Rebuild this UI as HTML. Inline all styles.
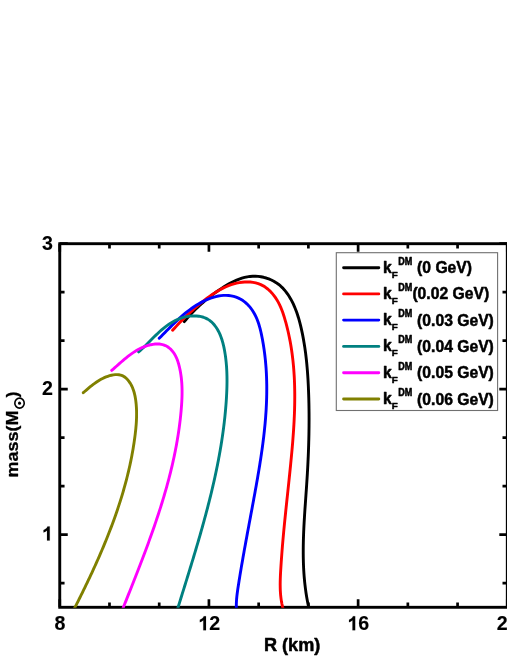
<!DOCTYPE html>
<html><head><meta charset="utf-8"><title>Mass-Radius</title>
<style>html,body{margin:0;padding:0;background:#fff}body{width:507px;height:656px;overflow:hidden;font-family:"Liberation Sans",sans-serif}</style></head>
<body>
<svg width="507" height="656" viewBox="0 0 507 656" style="display:block;will-change:transform">
<rect width="507" height="656" fill="#ffffff"/>
<defs><clipPath id="c"><rect x="59.75" y="243.70" width="447.55" height="364.00"/></clipPath></defs>
<path d="M59.75 607.30 V599.30 M59.75 243.70 V251.70 M109.48 607.30 V602.50 M109.48 243.70 V248.50 M159.21 607.30 V602.50 M159.21 243.70 V248.50 M208.93 607.30 V599.30 M208.93 243.70 V251.70 M258.66 607.30 V602.50 M258.66 243.70 V248.50 M308.39 607.30 V602.50 M308.39 243.70 V248.50 M358.12 607.30 V599.30 M358.12 243.70 V251.70 M407.84 607.30 V602.50 M407.84 243.70 V248.50 M457.57 607.30 V602.50 M457.57 243.70 V248.50 M507.30 607.30 V599.30 M507.30 243.70 V251.70 M59.75 243.70 H67.75 M507.30 243.70 H499.30 M59.75 292.18 H64.55 M507.30 292.18 H502.50 M59.75 340.66 H64.55 M507.30 340.66 H502.50 M59.75 389.14 H67.75 M507.30 389.14 H499.30 M59.75 437.62 H64.55 M507.30 437.62 H502.50 M59.75 486.10 H64.55 M507.30 486.10 H502.50 M59.75 534.58 H67.75 M507.30 534.58 H499.30 M59.75 583.06 H64.55 M507.30 583.06 H502.50" stroke="#000" stroke-width="2.70" fill="none"/>
<rect x="59.75" y="243.70" width="447.55" height="363.60" fill="none" stroke="#000" stroke-width="2.90"/>
<g clip-path="url(#c)" fill="none" stroke-width="2.9" stroke-linecap="round" stroke-linejoin="round">
<path d="M184.30 321.70 L186.10 319.52 L187.94 317.39 L189.80 315.30 L191.69 313.25 L193.60 311.25 L195.55 309.28 L197.53 307.35 L199.55 305.46 L201.59 303.61 L203.67 301.79 L205.78 300.00 L207.93 298.25 L210.11 296.53 L212.33 294.84 L214.59 293.17 L216.89 291.54 L219.23 289.93 L221.61 288.35 L224.02 286.80 L226.48 285.30 L228.97 283.86 L231.50 282.51 L234.05 281.25 L236.64 280.09 L239.26 279.06 L241.90 278.16 L244.57 277.42 L247.27 276.84 L249.98 276.44 L252.72 276.23 L255.46 276.22 L258.19 276.39 L260.91 276.75 L263.60 277.29 L266.24 278.01 L268.83 278.91 L271.36 279.98 L273.80 281.23 L276.15 282.64 L278.39 284.22 L280.52 285.96 L282.52 287.86 L284.40 289.89 L286.17 292.06 L287.82 294.33 L289.37 296.70 L290.81 299.14 L292.15 301.65 L293.39 304.21 L294.54 306.81 L295.61 309.43 L296.60 312.08 L297.52 314.76 L298.37 317.45 L299.16 320.17 L299.90 322.89 L300.59 325.63 L301.23 328.37 L301.84 331.12 L302.42 333.87 L302.96 336.62 L303.47 339.38 L303.95 342.13 L304.41 344.89 L304.83 347.65 L305.23 350.42 L305.60 353.18 L305.94 355.95 L306.26 358.72 L306.56 361.49 L306.83 364.26 L307.08 367.04 L307.32 369.81 L307.53 372.59 L307.73 375.37 L307.91 378.15 L308.07 380.93 L308.22 383.71 L308.35 386.50 L308.47 389.28 L308.58 392.07 L308.68 394.85 L308.77 397.64 L308.84 400.42 L308.91 403.21 L308.96 406.00 L309.00 408.79 L309.03 411.58 L309.06 414.37 L309.07 417.16 L309.07 419.95 L309.06 422.74 L309.04 425.54 L309.01 428.33 L308.97 431.12 L308.93 433.92 L308.87 436.71 L308.81 439.51 L308.73 442.30 L308.65 445.10 L308.56 447.89 L308.46 450.69 L308.35 453.48 L308.24 456.28 L308.11 459.08 L307.98 461.87 L307.85 464.67 L307.70 467.47 L307.55 470.27 L307.39 473.06 L307.22 475.86 L307.05 478.66 L306.87 481.46 L306.69 484.25 L306.50 487.05 L306.31 489.85 L306.11 492.65 L305.92 495.44 L305.72 498.24 L305.52 501.04 L305.33 503.83 L305.13 506.63 L304.94 509.43 L304.76 512.22 L304.58 515.02 L304.41 517.81 L304.24 520.61 L304.09 523.40 L303.94 526.19 L303.81 528.98 L303.68 531.77 L303.57 534.57 L303.48 537.36 L303.39 540.14 L303.33 542.93 L303.28 545.72 L303.25 548.51 L303.24 551.29 L303.25 554.08 L303.27 556.86 L303.33 559.64 L303.40 562.43 L303.50 565.21 L303.62 567.98 L303.77 570.76 L303.95 573.54 L304.15 576.31 L304.39 579.09 L304.65 581.86 L304.95 584.63 L305.28 587.40 L305.64 590.17 L306.04 592.94 L306.47 595.70 L306.94 598.47 L307.45 601.23 L307.99 603.99 L308.57 606.75 L309.20 609.50" stroke="#000000"/>
<path d="M172.60 330.20 L174.49 328.15 L176.40 326.12 L178.31 324.11 L180.24 322.11 L182.18 320.14 L184.13 318.18 L186.10 316.24 L188.09 314.33 L190.10 312.44 L192.13 310.57 L194.18 308.72 L196.25 306.91 L198.35 305.11 L200.48 303.35 L202.63 301.61 L204.82 299.90 L207.03 298.22 L209.28 296.57 L211.56 294.97 L213.88 293.41 L216.23 291.92 L218.63 290.49 L221.06 289.15 L223.53 287.89 L226.04 286.72 L228.60 285.66 L231.21 284.71 L233.85 283.89 L236.55 283.19 L239.28 282.64 L242.04 282.24 L244.81 282.00 L247.57 281.94 L250.31 282.06 L253.02 282.38 L255.68 282.91 L258.27 283.66 L260.79 284.63 L263.21 285.85 L265.53 287.31 L267.73 288.99 L269.82 290.86 L271.78 292.89 L273.60 295.07 L275.29 297.35 L276.83 299.71 L278.23 302.13 L279.50 304.62 L280.66 307.15 L281.72 309.72 L282.69 312.33 L283.59 314.97 L284.42 317.63 L285.20 320.30 L285.95 322.97 L286.66 325.66 L287.34 328.34 L287.98 331.04 L288.59 333.73 L289.17 336.44 L289.71 339.14 L290.22 341.85 L290.71 344.57 L291.16 347.29 L291.58 350.01 L291.97 352.74 L292.33 355.48 L292.67 358.21 L292.97 360.95 L293.25 363.69 L293.51 366.44 L293.74 369.19 L293.94 371.94 L294.12 374.70 L294.28 377.45 L294.41 380.21 L294.52 382.98 L294.61 385.74 L294.67 388.51 L294.72 391.28 L294.75 394.05 L294.76 396.82 L294.74 399.59 L294.71 402.37 L294.67 405.14 L294.60 407.92 L294.52 410.70 L294.43 413.48 L294.32 416.26 L294.19 419.04 L294.05 421.82 L293.90 424.60 L293.73 427.38 L293.56 430.16 L293.37 432.94 L293.17 435.72 L292.96 438.50 L292.74 441.28 L292.52 444.06 L292.28 446.83 L292.04 449.61 L291.79 452.38 L291.53 455.16 L291.27 457.93 L291.00 460.70 L290.73 463.46 L290.45 466.23 L290.17 468.99 L289.89 471.76 L289.61 474.52 L289.32 477.27 L289.03 480.03 L288.74 482.78 L288.45 485.53 L288.16 488.28 L287.87 491.03 L287.58 493.78 L287.29 496.53 L287.00 499.27 L286.71 502.02 L286.42 504.76 L286.13 507.51 L285.84 510.25 L285.56 513.00 L285.28 515.74 L285.00 518.49 L284.73 521.23 L284.46 523.98 L284.19 526.73 L283.92 529.47 L283.66 532.22 L283.41 534.97 L283.16 537.72 L282.91 540.47 L282.68 543.23 L282.44 545.98 L282.22 548.74 L282.00 551.50 L281.78 554.27 L281.58 557.03 L281.38 559.80 L281.19 562.57 L281.00 565.34 L280.83 568.12 L280.66 570.90 L280.51 573.68 L280.38 576.46 L280.28 579.24 L280.21 582.03 L280.19 584.81 L280.22 587.58 L280.31 590.35 L280.47 593.12 L280.71 595.87 L281.03 598.62 L281.44 601.36 L281.95 604.09 L282.57 606.80 L283.30 609.50" stroke="#ff0000"/>
<path d="M159.20 338.30 L161.07 336.43 L162.92 334.56 L164.76 332.69 L166.60 330.82 L168.44 328.95 L170.29 327.10 L172.13 325.26 L173.99 323.43 L175.87 321.62 L177.76 319.84 L179.67 318.08 L181.61 316.35 L183.58 314.65 L185.58 312.99 L187.62 311.37 L189.70 309.79 L191.82 308.25 L193.99 306.76 L196.22 305.33 L198.49 303.95 L200.83 302.62 L203.22 301.37 L205.66 300.20 L208.14 299.13 L210.65 298.16 L213.19 297.31 L215.75 296.60 L218.33 296.04 L220.91 295.64 L223.50 295.41 L226.08 295.37 L228.65 295.52 L231.19 295.87 L233.69 296.42 L236.12 297.17 L238.49 298.12 L240.75 299.26 L242.92 300.60 L244.96 302.12 L246.89 303.82 L248.70 305.66 L250.39 307.64 L251.95 309.74 L253.39 311.95 L254.70 314.24 L255.89 316.60 L256.95 319.02 L257.90 321.49 L258.76 324.01 L259.53 326.57 L260.22 329.15 L260.85 331.75 L261.43 334.36 L261.96 336.98 L262.46 339.59 L262.93 342.19 L263.37 344.80 L263.78 347.40 L264.16 350.00 L264.51 352.60 L264.84 355.21 L265.14 357.81 L265.41 360.41 L265.65 363.02 L265.87 365.62 L266.07 368.23 L266.24 370.84 L266.38 373.44 L266.50 376.05 L266.60 378.66 L266.67 381.27 L266.73 383.88 L266.76 386.49 L266.77 389.09 L266.75 391.70 L266.72 394.31 L266.67 396.92 L266.60 399.53 L266.50 402.14 L266.39 404.75 L266.26 407.36 L266.12 409.97 L265.95 412.58 L265.77 415.19 L265.58 417.79 L265.36 420.40 L265.14 423.01 L264.89 425.62 L264.63 428.23 L264.36 430.83 L264.08 433.44 L263.78 436.05 L263.47 438.65 L263.14 441.26 L262.81 443.86 L262.46 446.46 L262.11 449.07 L261.74 451.67 L261.36 454.27 L260.97 456.87 L260.58 459.47 L260.17 462.07 L259.76 464.67 L259.34 467.26 L258.92 469.86 L258.48 472.45 L258.04 475.05 L257.60 477.64 L257.15 480.23 L256.70 482.82 L256.24 485.41 L255.77 488.00 L255.31 490.58 L254.84 493.17 L254.37 495.75 L253.89 498.33 L253.42 500.91 L252.94 503.49 L252.47 506.07 L251.99 508.65 L251.51 511.23 L251.03 513.80 L250.55 516.38 L250.07 518.95 L249.59 521.52 L249.11 524.10 L248.63 526.67 L248.15 529.24 L247.67 531.81 L247.19 534.39 L246.72 536.96 L246.25 539.53 L245.77 542.11 L245.31 544.68 L244.84 547.25 L244.37 549.83 L243.91 552.40 L243.45 554.98 L243.00 557.56 L242.55 560.14 L242.10 562.71 L241.65 565.30 L241.21 567.88 L240.78 570.46 L240.35 573.05 L239.92 575.63 L239.50 578.22 L239.09 580.81 L238.67 583.40 L238.27 586.00 L237.88 588.59 L237.50 591.19 L237.16 593.79 L236.86 596.40 L236.61 599.01 L236.43 601.62 L236.33 604.24 L236.32 606.87 L236.40 609.50" stroke="#0000ff"/>
<path d="M138.60 351.90 L140.37 350.35 L142.13 348.76 L143.86 347.12 L145.59 345.45 L147.31 343.75 L149.02 342.03 L150.74 340.30 L152.46 338.56 L154.19 336.84 L155.94 335.13 L157.71 333.43 L159.50 331.77 L161.32 330.15 L163.17 328.57 L165.05 327.05 L166.98 325.59 L168.95 324.20 L170.98 322.89 L173.05 321.66 L175.19 320.53 L177.38 319.50 L179.65 318.58 L181.97 317.79 L184.36 317.11 L186.78 316.58 L189.22 316.18 L191.66 315.94 L194.10 315.86 L196.51 315.94 L198.88 316.20 L201.19 316.64 L203.44 317.27 L205.59 318.10 L207.64 319.13 L209.58 320.38 L211.39 321.84 L213.07 323.49 L214.62 325.29 L216.06 327.24 L217.37 329.30 L218.56 331.45 L219.64 333.67 L220.60 335.93 L221.45 338.23 L222.20 340.56 L222.87 342.92 L223.47 345.29 L223.99 347.68 L224.46 350.08 L224.88 352.49 L225.26 354.89 L225.60 357.30 L225.89 359.71 L226.15 362.12 L226.37 364.53 L226.56 366.94 L226.71 369.35 L226.83 371.77 L226.91 374.18 L226.97 376.60 L227.00 379.01 L227.01 381.43 L226.98 383.84 L226.94 386.26 L226.87 388.67 L226.78 391.08 L226.68 393.49 L226.55 395.91 L226.41 398.31 L226.26 400.72 L226.09 403.13 L225.90 405.53 L225.71 407.94 L225.50 410.34 L225.27 412.74 L225.04 415.14 L224.79 417.53 L224.53 419.93 L224.26 422.32 L223.97 424.72 L223.67 427.11 L223.36 429.50 L223.04 431.89 L222.71 434.27 L222.37 436.66 L222.01 439.04 L221.64 441.42 L221.27 443.80 L220.88 446.18 L220.48 448.56 L220.07 450.93 L219.65 453.31 L219.22 455.68 L218.78 458.05 L218.34 460.43 L217.88 462.79 L217.41 465.16 L216.93 467.53 L216.45 469.89 L215.95 472.26 L215.45 474.62 L214.94 476.98 L214.42 479.34 L213.89 481.70 L213.36 484.05 L212.81 486.41 L212.26 488.76 L211.70 491.11 L211.14 493.47 L210.56 495.82 L209.98 498.16 L209.40 500.51 L208.80 502.86 L208.20 505.20 L207.60 507.55 L206.99 509.89 L206.37 512.23 L205.75 514.57 L205.12 516.91 L204.48 519.24 L203.84 521.58 L203.20 523.91 L202.55 526.25 L201.90 528.58 L201.24 530.91 L200.57 533.24 L199.91 535.57 L199.24 537.90 L198.56 540.22 L197.88 542.55 L197.20 544.87 L196.52 547.20 L195.83 549.52 L195.14 551.84 L194.44 554.16 L193.74 556.48 L193.05 558.79 L192.34 561.11 L191.64 563.42 L190.94 565.74 L190.23 568.05 L189.52 570.36 L188.81 572.67 L188.10 574.98 L187.39 577.29 L186.67 579.60 L185.96 581.90 L185.24 584.21 L184.53 586.51 L183.81 588.81 L183.10 591.12 L182.38 593.42 L181.67 595.72 L180.95 598.02 L180.24 600.31 L179.53 602.61 L178.82 604.91 L178.11 607.20 L177.40 609.50" stroke="#008080"/>
<path d="M111.70 370.40 L113.27 369.04 L114.84 367.65 L116.43 366.25 L118.02 364.83 L119.63 363.41 L121.25 361.99 L122.89 360.57 L124.55 359.17 L126.23 357.79 L127.93 356.44 L129.65 355.12 L131.40 353.85 L133.18 352.61 L134.99 351.44 L136.83 350.32 L138.71 349.26 L140.62 348.28 L142.57 347.38 L144.56 346.57 L146.58 345.85 L148.66 345.23 L150.77 344.71 L152.92 344.32 L155.07 344.06 L157.22 343.97 L159.34 344.06 L161.42 344.34 L163.44 344.84 L165.38 345.57 L167.22 346.55 L168.95 347.74 L170.55 349.11 L172.01 350.64 L173.32 352.28 L174.48 354.04 L175.53 355.89 L176.45 357.82 L177.27 359.82 L177.99 361.87 L178.63 363.96 L179.19 366.08 L179.69 368.21 L180.14 370.35 L180.53 372.49 L180.87 374.63 L181.17 376.77 L181.42 378.91 L181.62 381.05 L181.79 383.20 L181.91 385.34 L181.99 387.49 L182.05 389.63 L182.06 391.77 L182.05 393.92 L182.01 396.06 L181.94 398.20 L181.84 400.35 L181.73 402.49 L181.59 404.63 L181.44 406.76 L181.27 408.90 L181.09 411.03 L180.89 413.16 L180.68 415.29 L180.45 417.42 L180.22 419.55 L179.97 421.67 L179.71 423.79 L179.43 425.91 L179.15 428.03 L178.85 430.14 L178.54 432.25 L178.22 434.36 L177.88 436.47 L177.54 438.58 L177.18 440.69 L176.81 442.79 L176.43 444.89 L176.04 446.99 L175.64 449.09 L175.23 451.18 L174.81 453.28 L174.38 455.37 L173.94 457.46 L173.48 459.55 L173.02 461.63 L172.55 463.72 L172.07 465.80 L171.58 467.88 L171.08 469.96 L170.57 472.03 L170.05 474.11 L169.52 476.18 L168.99 478.25 L168.44 480.32 L167.89 482.39 L167.33 484.46 L166.76 486.52 L166.18 488.58 L165.59 490.64 L165.00 492.70 L164.40 494.76 L163.79 496.82 L163.18 498.87 L162.56 500.92 L161.93 502.97 L161.29 505.02 L160.65 507.07 L160.00 509.11 L159.34 511.16 L158.68 513.20 L158.01 515.24 L157.34 517.28 L156.66 519.32 L155.97 521.35 L155.28 523.39 L154.59 525.42 L153.89 527.45 L153.18 529.48 L152.47 531.51 L151.75 533.54 L151.03 535.56 L150.31 537.59 L149.58 539.61 L148.85 541.63 L148.11 543.65 L147.37 545.66 L146.62 547.68 L145.88 549.69 L145.12 551.71 L144.37 553.72 L143.61 555.73 L142.85 557.74 L142.09 559.75 L141.32 561.75 L140.55 563.76 L139.78 565.76 L139.00 567.76 L138.23 569.76 L137.45 571.76 L136.67 573.76 L135.89 575.76 L135.11 577.75 L134.32 579.74 L133.54 581.74 L132.75 583.73 L131.96 585.72 L131.18 587.71 L130.39 589.69 L129.60 591.68 L128.81 593.66 L128.02 595.65 L127.23 597.63 L126.44 599.61 L125.65 601.59 L124.86 603.57 L124.08 605.55 L123.29 607.52 L122.50 609.50" stroke="#ff00ff"/>
<path d="M83.30 392.70 L84.67 391.51 L86.06 390.31 L87.46 389.11 L88.87 387.92 L90.30 386.74 L91.75 385.57 L93.23 384.43 L94.72 383.33 L96.25 382.25 L97.80 381.22 L99.38 380.24 L101.00 379.32 L102.64 378.45 L104.33 377.65 L106.05 376.92 L107.82 376.27 L109.63 375.70 L111.47 375.23 L113.34 374.87 L115.21 374.65 L117.06 374.60 L118.87 374.73 L120.63 375.07 L122.30 375.64 L123.88 376.47 L125.35 377.53 L126.71 378.77 L127.96 380.12 L129.10 381.56 L130.13 383.06 L131.05 384.63 L131.88 386.26 L132.63 387.94 L133.28 389.67 L133.86 391.43 L134.37 393.23 L134.80 395.05 L135.18 396.90 L135.50 398.77 L135.77 400.64 L135.99 402.52 L136.18 404.40 L136.33 406.27 L136.44 408.14 L136.52 410.01 L136.57 411.87 L136.59 413.73 L136.58 415.59 L136.54 417.45 L136.48 419.30 L136.39 421.15 L136.28 423.00 L136.15 424.84 L135.99 426.69 L135.82 428.53 L135.64 430.36 L135.43 432.20 L135.22 434.04 L134.99 435.87 L134.75 437.70 L134.50 439.53 L134.24 441.36 L133.97 443.18 L133.69 445.01 L133.40 446.83 L133.10 448.65 L132.79 450.47 L132.47 452.28 L132.14 454.10 L131.80 455.91 L131.45 457.72 L131.09 459.53 L130.72 461.34 L130.34 463.14 L129.96 464.95 L129.56 466.75 L129.15 468.55 L128.74 470.35 L128.32 472.14 L127.88 473.94 L127.44 475.73 L126.99 477.52 L126.54 479.31 L126.07 481.10 L125.59 482.88 L125.11 484.66 L124.62 486.45 L124.12 488.22 L123.61 490.00 L123.10 491.78 L122.58 493.55 L122.05 495.32 L121.51 497.09 L120.96 498.86 L120.41 500.63 L119.85 502.39 L119.28 504.15 L118.71 505.91 L118.13 507.67 L117.54 509.43 L116.94 511.18 L116.34 512.93 L115.73 514.68 L115.12 516.43 L114.49 518.18 L113.87 519.92 L113.23 521.67 L112.59 523.41 L111.94 525.15 L111.29 526.88 L110.63 528.62 L109.97 530.35 L109.30 532.08 L108.62 533.81 L107.94 535.54 L107.25 537.26 L106.56 538.98 L105.86 540.70 L105.16 542.42 L104.45 544.14 L103.74 545.85 L103.02 547.57 L102.30 549.28 L101.58 550.99 L100.84 552.69 L100.11 554.40 L99.37 556.10 L98.62 557.80 L97.87 559.50 L97.12 561.20 L96.36 562.89 L95.60 564.58 L94.84 566.27 L94.07 567.96 L93.30 569.65 L92.52 571.33 L91.74 573.02 L90.96 574.70 L90.17 576.37 L89.38 578.05 L88.59 579.72 L87.79 581.40 L87.00 583.07 L86.19 584.73 L85.39 586.40 L84.58 588.06 L83.77 589.72 L82.96 591.38 L82.15 593.04 L81.33 594.70 L80.51 596.35 L79.69 598.00 L78.87 599.65 L78.05 601.30 L77.22 602.94 L76.39 604.58 L75.56 606.22 L74.73 607.86 L73.90 609.50" stroke="#808000"/>
</g>
<text x="54.55" y="630.30" font-size="19.6" font-family="Liberation Sans, sans-serif" font-weight="bold" stroke="#000" stroke-width="0.15">8</text>
<path d="M206.00 630.30 H203.31 V620.17 Q201.84 621.54 199.84 622.20 V619.76 Q200.89 619.42 202.12 618.46 Q203.36 617.49 203.82 616.21 H206.00 Z" fill="#000" stroke="#000" stroke-width="0.15"/><text x="209.18" y="630.30" font-size="19.6" font-family="Liberation Sans, sans-serif" font-weight="bold" stroke="#000" stroke-width="0.15">2</text>
<path d="M355.18 630.30 H352.49 V620.17 Q351.02 621.54 349.02 622.20 V619.76 Q350.07 619.42 351.31 618.46 Q352.54 617.49 353.00 616.21 H355.18 Z" fill="#000" stroke="#000" stroke-width="0.15"/><text x="358.37" y="630.30" font-size="19.6" font-family="Liberation Sans, sans-serif" font-weight="bold" stroke="#000" stroke-width="0.15">6</text>
<text x="496.65" y="630.30" font-size="19.6" font-family="Liberation Sans, sans-serif" font-weight="bold" stroke="#000" stroke-width="0.15">2</text><text x="507.55" y="630.30" font-size="19.6" font-family="Liberation Sans, sans-serif" font-weight="bold" stroke="#000" stroke-width="0.15">0</text>
<path d="M49.72 540.53 H47.03 V530.40 Q45.55 531.77 43.55 532.43 V529.99 Q44.61 529.65 45.84 528.69 Q47.07 527.72 47.53 526.44 H49.72 Z" fill="#000" stroke="#000" stroke-width="0.15"/>
<text x="42.00" y="395.09" font-size="19.6" font-family="Liberation Sans, sans-serif" font-weight="bold" stroke="#000" stroke-width="0.15">2</text>
<text x="42.00" y="249.65" font-size="19.6" font-family="Liberation Sans, sans-serif" font-weight="bold" stroke="#000" stroke-width="0.15">3</text>
<text x="264.0" y="650.9" font-size="18.1" font-family="Liberation Sans, sans-serif" font-weight="bold" stroke="#000" stroke-width="0.5" stroke-linejoin="round">R (km)</text>
<g transform="translate(18.4 477.4) rotate(-90) scale(1 0.94)"><text x="0" y="0" font-size="18" font-family="Liberation Sans, sans-serif" font-weight="bold" stroke="#000" stroke-width="0.3" stroke-linejoin="round">mass(M</text>
<circle cx="74.21" cy="1.2" r="5.0" fill="none" stroke="#000" stroke-width="1.7"/><circle cx="74.21" cy="1.2" r="1.6" fill="#000"/>
<text x="80.01" y="0" font-size="18" font-family="Liberation Sans, sans-serif" font-weight="bold" stroke="#000" stroke-width="0.3" stroke-linejoin="round">)</text></g>
<rect x="336.3" y="252.7" width="161.3" height="157.8" fill="#fff" stroke="#707070" stroke-width="1.1"/>
<path d="M343.6 267.70 H378.8" stroke="#000000" stroke-width="2.9" stroke-linecap="round" fill="none"/>
<text x="383.0" y="272.70" font-size="15.7" font-family="Liberation Sans, sans-serif" font-weight="bold" stroke="#000" stroke-width="0.5" stroke-linejoin="round">k</text>
<text x="391.7" y="277.50" font-size="9.8" font-family="Liberation Sans, sans-serif" font-weight="bold" stroke="#000" stroke-width="0.5" stroke-linejoin="round">F</text>
<text transform="translate(398.2 264.70) scale(1 1.14)" font-size="9" font-family="Liberation Sans, sans-serif" font-weight="bold" stroke="#000" stroke-width="0.5" stroke-linejoin="round">DM</text>
<text x="417.10" y="273.20" font-size="15.7" font-family="Liberation Sans, sans-serif" font-weight="bold" stroke="#000" stroke-width="0.5" stroke-linejoin="round">(0 GeV)</text>
<path d="M343.6 293.90 H378.8" stroke="#ff0000" stroke-width="2.9" stroke-linecap="round" fill="none"/>
<text x="383.0" y="298.90" font-size="15.7" font-family="Liberation Sans, sans-serif" font-weight="bold" stroke="#000" stroke-width="0.5" stroke-linejoin="round">k</text>
<text x="391.7" y="303.70" font-size="9.8" font-family="Liberation Sans, sans-serif" font-weight="bold" stroke="#000" stroke-width="0.5" stroke-linejoin="round">F</text>
<text transform="translate(398.2 290.90) scale(1 1.14)" font-size="9" font-family="Liberation Sans, sans-serif" font-weight="bold" stroke="#000" stroke-width="0.5" stroke-linejoin="round">DM</text>
<text x="412.40" y="299.40" font-size="15.7" font-family="Liberation Sans, sans-serif" font-weight="bold" stroke="#000" stroke-width="0.5" stroke-linejoin="round">(0.02 GeV)</text>
<path d="M343.6 320.10 H378.8" stroke="#0000ff" stroke-width="2.9" stroke-linecap="round" fill="none"/>
<text x="383.0" y="325.10" font-size="15.7" font-family="Liberation Sans, sans-serif" font-weight="bold" stroke="#000" stroke-width="0.5" stroke-linejoin="round">k</text>
<text x="391.7" y="329.90" font-size="9.8" font-family="Liberation Sans, sans-serif" font-weight="bold" stroke="#000" stroke-width="0.5" stroke-linejoin="round">F</text>
<text transform="translate(398.2 317.10) scale(1 1.14)" font-size="9" font-family="Liberation Sans, sans-serif" font-weight="bold" stroke="#000" stroke-width="0.5" stroke-linejoin="round">DM</text>
<text x="417.10" y="325.60" font-size="15.7" font-family="Liberation Sans, sans-serif" font-weight="bold" stroke="#000" stroke-width="0.5" stroke-linejoin="round">(0.03 GeV)</text>
<path d="M343.6 346.40 H378.8" stroke="#008080" stroke-width="2.9" stroke-linecap="round" fill="none"/>
<text x="383.0" y="351.40" font-size="15.7" font-family="Liberation Sans, sans-serif" font-weight="bold" stroke="#000" stroke-width="0.5" stroke-linejoin="round">k</text>
<text x="391.7" y="356.20" font-size="9.8" font-family="Liberation Sans, sans-serif" font-weight="bold" stroke="#000" stroke-width="0.5" stroke-linejoin="round">F</text>
<text transform="translate(398.2 343.40) scale(1 1.14)" font-size="9" font-family="Liberation Sans, sans-serif" font-weight="bold" stroke="#000" stroke-width="0.5" stroke-linejoin="round">DM</text>
<text x="417.10" y="351.90" font-size="15.7" font-family="Liberation Sans, sans-serif" font-weight="bold" stroke="#000" stroke-width="0.5" stroke-linejoin="round">(0.04 GeV)</text>
<path d="M343.6 372.70 H378.8" stroke="#ff00ff" stroke-width="2.9" stroke-linecap="round" fill="none"/>
<text x="383.0" y="377.70" font-size="15.7" font-family="Liberation Sans, sans-serif" font-weight="bold" stroke="#000" stroke-width="0.5" stroke-linejoin="round">k</text>
<text x="391.7" y="382.50" font-size="9.8" font-family="Liberation Sans, sans-serif" font-weight="bold" stroke="#000" stroke-width="0.5" stroke-linejoin="round">F</text>
<text transform="translate(398.2 369.70) scale(1 1.14)" font-size="9" font-family="Liberation Sans, sans-serif" font-weight="bold" stroke="#000" stroke-width="0.5" stroke-linejoin="round">DM</text>
<text x="417.10" y="378.20" font-size="15.7" font-family="Liberation Sans, sans-serif" font-weight="bold" stroke="#000" stroke-width="0.5" stroke-linejoin="round">(0.05 GeV)</text>
<path d="M343.6 399.00 H378.8" stroke="#808000" stroke-width="2.9" stroke-linecap="round" fill="none"/>
<text x="383.0" y="404.00" font-size="15.7" font-family="Liberation Sans, sans-serif" font-weight="bold" stroke="#000" stroke-width="0.5" stroke-linejoin="round">k</text>
<text x="391.7" y="408.80" font-size="9.8" font-family="Liberation Sans, sans-serif" font-weight="bold" stroke="#000" stroke-width="0.5" stroke-linejoin="round">F</text>
<text transform="translate(398.2 396.00) scale(1 1.14)" font-size="9" font-family="Liberation Sans, sans-serif" font-weight="bold" stroke="#000" stroke-width="0.5" stroke-linejoin="round">DM</text>
<text x="417.10" y="404.50" font-size="15.7" font-family="Liberation Sans, sans-serif" font-weight="bold" stroke="#000" stroke-width="0.5" stroke-linejoin="round">(0.06 GeV)</text>
</svg>
</body></html>
